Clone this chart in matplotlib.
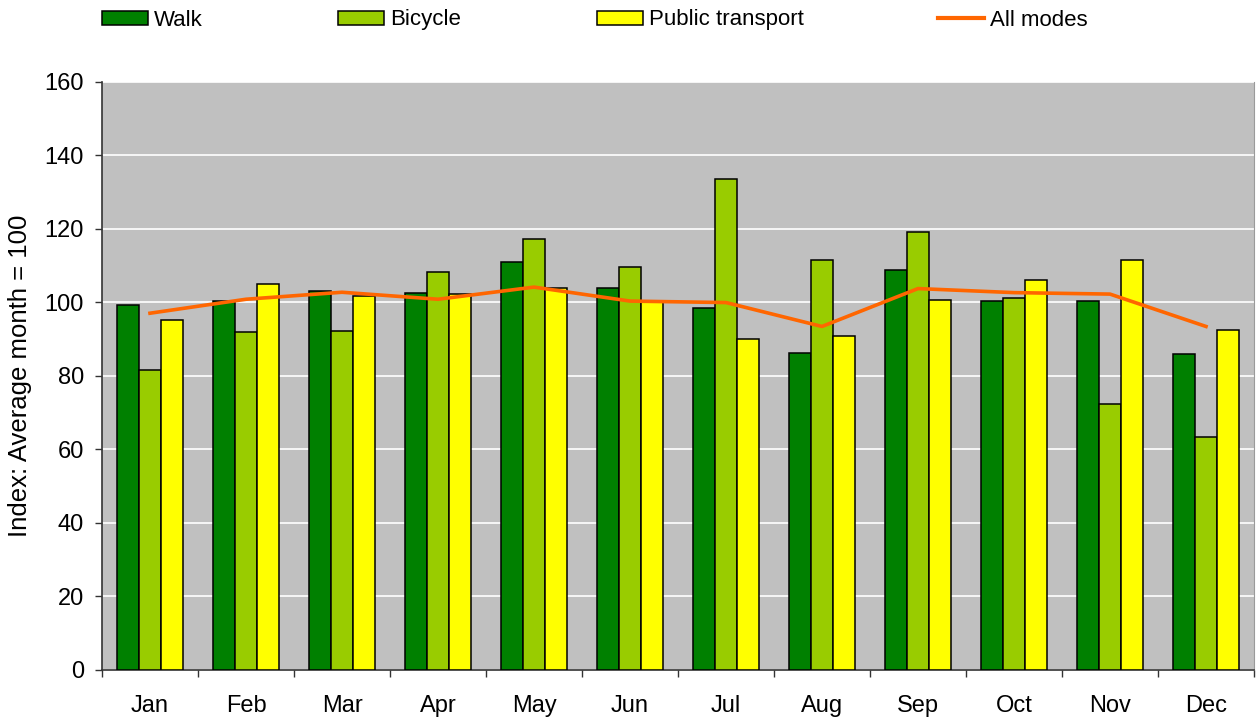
import numpy as np
import matplotlib
matplotlib.use("Agg")
import matplotlib.pyplot as plt
from matplotlib.patches import Patch
from matplotlib.lines import Line2D

months = ["Jan", "Feb", "Mar", "Apr", "May", "Jun",
          "Jul", "Aug", "Sep", "Oct", "Nov", "Dec"]
walk = [99.3, 100.3, 103.1, 102.6, 111.0, 103.9, 98.4, 86.3, 108.8, 100.3, 100.3, 85.9]
bicycle = [81.6, 91.9, 92.3, 108.2, 117.1, 109.7, 133.4, 111.5, 119.0, 101.2, 72.3, 63.4]
public_transport = [95.2, 104.9, 101.7, 102.1, 103.9, 100.1, 90.0, 90.9, 100.7, 105.9, 111.6, 92.4]
all_modes = [97.0, 100.8, 102.7, 100.8, 104.1, 100.3, 99.9, 93.4, 103.7, 102.6, 102.2, 93.4]

plt.rcParams["font.family"] = ["Liberation Sans", "DejaVu Sans"]
FS = 16

fig = plt.figure(figsize=(12.56, 7.22), dpi=100)
ax = fig.add_axes([102 / 1256, 52 / 722, 1152 / 1256, 588.5 / 722])
ax.set_facecolor("#C0C0C0")

x = np.arange(len(months))
w = 0.228
series = [(walk, "#008000", "Walk"),
          (bicycle, "#99CC00", "Bicycle"),
          (public_transport, "#FFFF00", "Public transport")]
for i, (vals, col, lab) in enumerate(series):
    ax.bar(x + (i - 1) * w, vals, w, color=col, edgecolor="black",
           linewidth=1.1, zorder=3, label=lab)
ax.plot(x, all_modes, color="#FF6600", lw=2.6, zorder=4, label="All modes")

ax.set_xlim(-0.5, len(months) - 0.5)
ax.set_ylim(0, 160)
ax.set_yticks(np.arange(0, 161, 20))
ax.yaxis.grid(True, color="white", lw=1.2, zorder=0)
ax.set_axisbelow(True)

ax.set_xticks(np.arange(-0.5, len(months), 1))
ax.set_xticklabels([])
ax.set_xticks(x, minor=True)
ax.set_xticklabels(months, minor=True, fontsize=17)
ax.tick_params(axis="x", which="major", length=5, width=1, direction="out", color="#333333")
ax.tick_params(axis="x", which="minor", length=0, pad=18)
ax.tick_params(axis="y", length=5, width=1, pad=8, labelsize=17, color="#333333")

for s in ["left", "bottom"]:
    ax.spines[s].set_color("#333333")
    ax.spines[s].set_linewidth(1.2)
ax.spines["right"].set_color("#9a9a9a")
ax.spines["top"].set_visible(False)

ax.set_ylabel("Index: Average month = 100", fontsize=18.5, labelpad=9)

# legend entries laid out along the top
handles = [Patch(facecolor=c, edgecolor="black", linewidth=1.1) for _, c, _ in series]
handles.append(Line2D([0], [0], color="#FF6600", lw=3))
labels = [lab for _, _, lab in series] + ["All modes"]
xs = [102, 338, 597, 938]
for h, lab, xp in zip(handles, labels, xs):
    fig.legend([h], [lab], loc="center left", bbox_to_anchor=(xp / 1256, 1 - 20 / 722),
               frameon=False, fontsize=FS, handlelength=2.05, handleheight=0.6,
               handletextpad=0.3, borderpad=0, borderaxespad=0)

fig.savefig("out.png", dpi=100)
